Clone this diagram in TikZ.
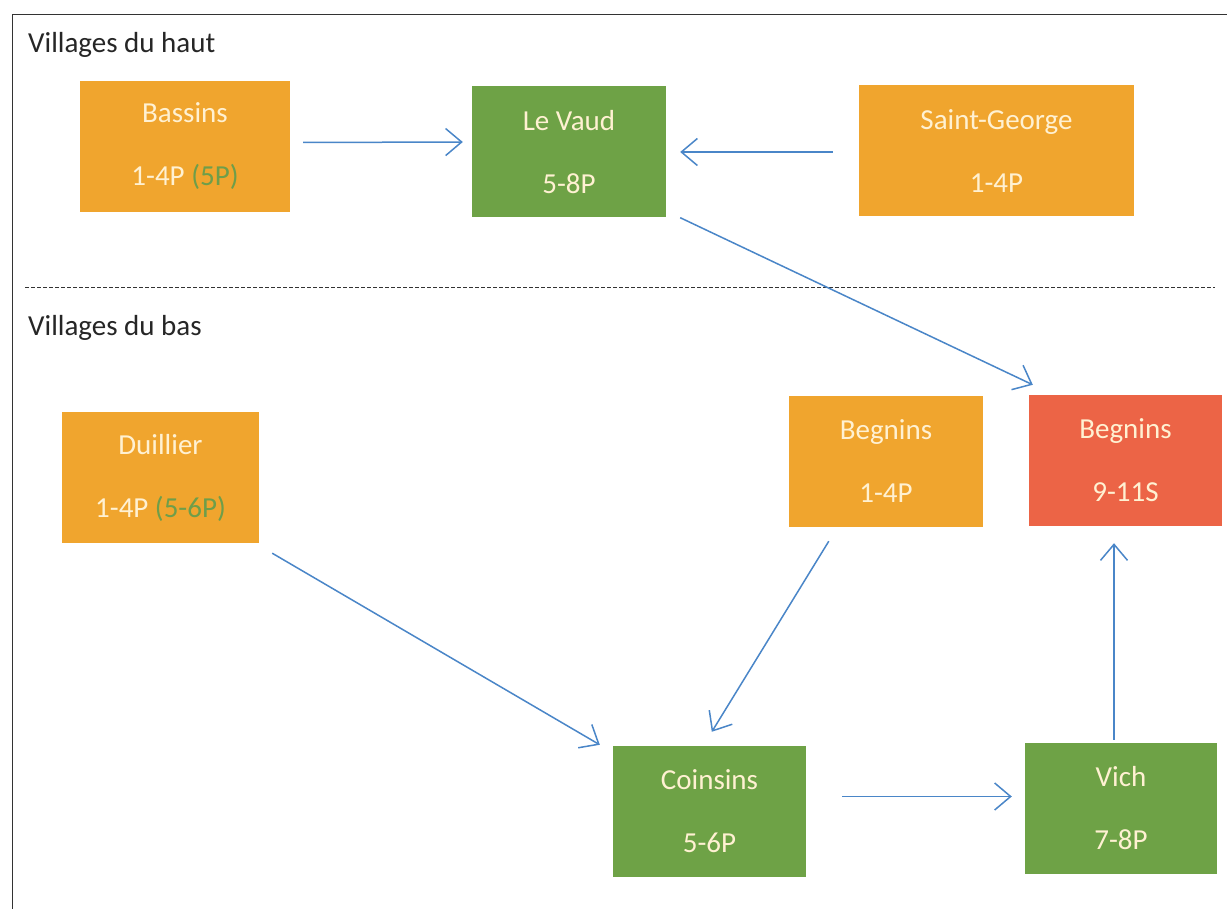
\documentclass[tikz,border=0pt]{standalone}
\usepackage{fontspec}
\setmainfont{Carlito}
\usetikzlibrary{arrows.meta,calc}
\definecolor{orangebox}{HTML}{F0A52E}
\definecolor{greenbox}{HTML}{6EA246}
\definecolor{redbox}{HTML}{EC6446}
\definecolor{boxtext}{HTML}{FFF1D2}
\definecolor{greentext}{HTML}{6E9E4A}
\definecolor{arrowblue}{HTML}{4A86C8}
\definecolor{frameline}{HTML}{333333}
\tikzset{
  x=1pt, y=-1pt,
  village/.style={draw=none, minimum width=#1, minimum height=131pt, inner sep=0pt,
    text=boxtext, font=\fontsize{29}{35}\selectfont, align=center},
  orangev/.style={village=#1, fill=orangebox},
  greenv/.style={village=#1, fill=greenbox},
  redv/.style={village=#1, fill=redbox},
  arr/.style={draw=arrowblue, line width=1.5pt, -{Straight Barb[length=16pt,width=27pt,line width=1.5pt]}},
  zonelabel/.style={anchor=west, inner sep=0pt, text=black!85, font=\fontsize{29}{34}\selectfont},
}
\newcommand{\vtext}[2]{#1\\[28pt]#2}
\begin{document}
\begin{tikzpicture}
\useasboundingbox (0,0) rectangle (1227,909);
\fill[white] (0,0) rectangle (1227,909);
% frame
\draw[frameline, line width=1pt] (12,909) -- (12,15) -- (1227,15);
\draw[black!80, line width=0.8pt, dash pattern=on 4pt off 2pt] (25,287) -- (1215,287);
\node[zonelabel] (haut) at (28,45) {Villages du haut};
\node[zonelabel] (bas) at (28,328) {Villages du bas};
% boxes
\node[orangev=210pt] (bassins) at (185,146.5) {\vtext{Bassins}{1-4P {\color{greentext}(5P)}}};
\node[greenv=194pt] (vaud) at (569,152) {\vtext{Le Vaud}{5-8P}};
\node[orangev=275pt] (george) at (996.5,151) {\vtext{Saint-George}{1-4P}};
\node[orangev=197pt] (duillier) at (160.5,477.5) {\vtext{Duillier}{1-4P {\color{greentext}(5-6P)}}};
\node[orangev=194pt] (begninsA) at (886,461.5) {\vtext{Begnins}{1-4P}};
\node[redv=193pt] (begninsB) at (1125.5,460.5) {\vtext{Begnins}{9-11S}};
\node[greenv=193pt] (coinsins) at (709.5,811.5) {\vtext{Coinsins}{5-6P}};
\node[greenv=192pt] (vich) at (1121,808.5) {\vtext{Vich}{7-8P}};
% arrows
\draw[arr] ($(bassins.east)+(13,-4)$) -- ($(vaud.west)+(-9,-10)$);
\draw[arr] ($(george.west)+(-26,1)$) -- ($(vaud.east)+(14,0)$);
\draw[arr] ($(vaud.south east)+(14,0)$) -- ($(begninsB.north west)+(4,-10)$);
\draw[arr] ($(duillier.south east)+(13,10)$) -- ($(coinsins.north west)+(-13,-1)$);
\draw[arr] ($(begninsA.south west)+(40,14)$) -- ($(coinsins.north west)+(99,-14)$);
\draw[arr] ($(coinsins.east)+(36,-15)$) -- ($(vich.west)+(-13,-12)$);
\draw[arr] ($(vich.north)+(-7,-3)$) -- ($(begninsB.south)+(-11.5,17)$);
\end{tikzpicture}
\end{document}
